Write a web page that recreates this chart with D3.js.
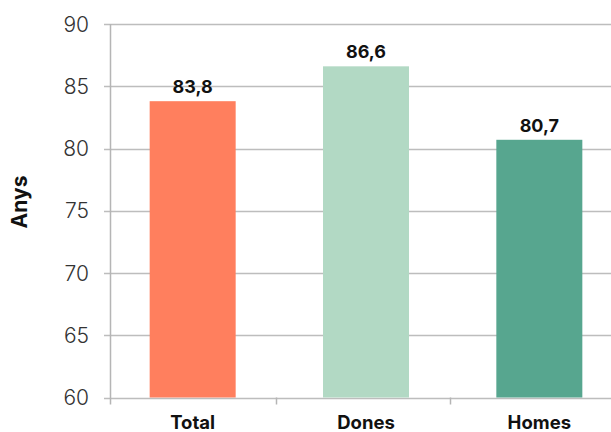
<!DOCTYPE html>
<html>
<head>
<meta charset="utf-8">
<script src="https://cdn.jsdelivr.net/npm/d3@7"></script>
<style>
  body { margin: 0; background: #fff; }
  svg { display: block; }
</style>
</head>
<body>
<svg class="svg"></svg>
<script>
const categories = ['Total', 'Dones', 'Homes'];
const values = [83.8, 86.6, 80.7];
const colors = ['#FF7F5E', '#B2D9C4', '#57A68F'];
const yTicks = [60, 65, 70, 75, 80, 85, 90];

const width = 611;
const height = 432;
const axisX = 110;
const font = 'Inter, "Open Sans", sans-serif';

const svg = d3.select('.svg')
  .attr('width', width)
  .attr('height', height);

const x = d3.scaleBand()
  .domain(categories)
  .range([106, 626])
  .padding(0);

const y = d3.scaleLinear()
  .domain([60, 90])
  .range([397.5, 24]);

// gridlines
svg.append('g')
  .selectAll('line')
  .data(yTicks)
  .join('line')
  .attr('x1', axisX - 6)
  .attr('x2', width)
  .attr('y1', d => Math.round(y(d)) + 0.5)
  .attr('y2', d => Math.round(y(d)) + 0.5)
  .attr('stroke', '#bdbdbd')
  .attr('stroke-width', 1.5);

// y labels
svg.append('g')
  .selectAll('text')
  .data(yTicks)
  .join('text')
  .attr('x', 89)
  .attr('y', d => y(d) + 7.5)
  .attr('text-anchor', 'end')
  .attr('font-family', font)
  .attr('font-weight', 300)
  .attr('font-size', 21)
  .attr('fill', '#333')
  .text(d => d);

// bars
const barW = 86;
svg.append('g')
  .selectAll('rect')
  .data(values)
  .join('rect')
  .attr('x', (d, i) => x(categories[i]) + x.bandwidth() / 2 - barW / 2)
  .attr('y', d => y(d))
  .attr('width', barW)
  .attr('height', d => y(60) - y(d))
  .attr('fill', (d, i) => colors[i]);

// vertical axis line
svg.append('line')
  .attr('x1', axisX + 0.5)
  .attr('x2', axisX + 0.5)
  .attr('y1', y(90))
  .attr('y2', y(60) + 7)
  .attr('stroke', '#b5b5b5')
  .attr('stroke-width', 1.5);

// category boundary ticks
svg.append('g')
  .selectAll('line')
  .data(categories.slice(1))
  .join('line')
  .attr('x1', d => Math.round(x(d)) - 2.5)
  .attr('x2', d => Math.round(x(d)) - 2.5)
  .attr('y1', y(60))
  .attr('y2', y(60) + 7)
  .attr('stroke', '#b5b5b5')
  .attr('stroke-width', 1.5);

// value labels
svg.append('g')
  .selectAll('text')
  .data(values)
  .join('text')
  .attr('x', (d, i) => x(categories[i]) + x.bandwidth() / 2)
  .attr('y', d => y(d) - 8)
  .attr('text-anchor', 'middle')
  .attr('font-family', font)
  .attr('font-weight', 700)
  .attr('font-size', 18)
  .attr('fill', '#111')
  .text(d => d.toFixed(1).replace('.', ','));

// category labels
svg.append('g')
  .selectAll('text')
  .data(categories)
  .join('text')
  .attr('x', d => x(d) + x.bandwidth() / 2)
  .attr('y', 429)
  .attr('text-anchor', 'middle')
  .attr('font-family', font)
  .attr('font-weight', 700)
  .attr('font-size', 18.5)
  .attr('fill', '#111')
  .text(d => d);

// y title
svg.append('text')
  .attr('transform', 'translate(27,202) rotate(-90)')
  .attr('text-anchor', 'middle')
  .attr('font-family', font)
  .attr('font-weight', 700)
  .attr('font-size', 21)
  .attr('fill', '#111')
  .text('Anys');
</script>
</body>
</html>
